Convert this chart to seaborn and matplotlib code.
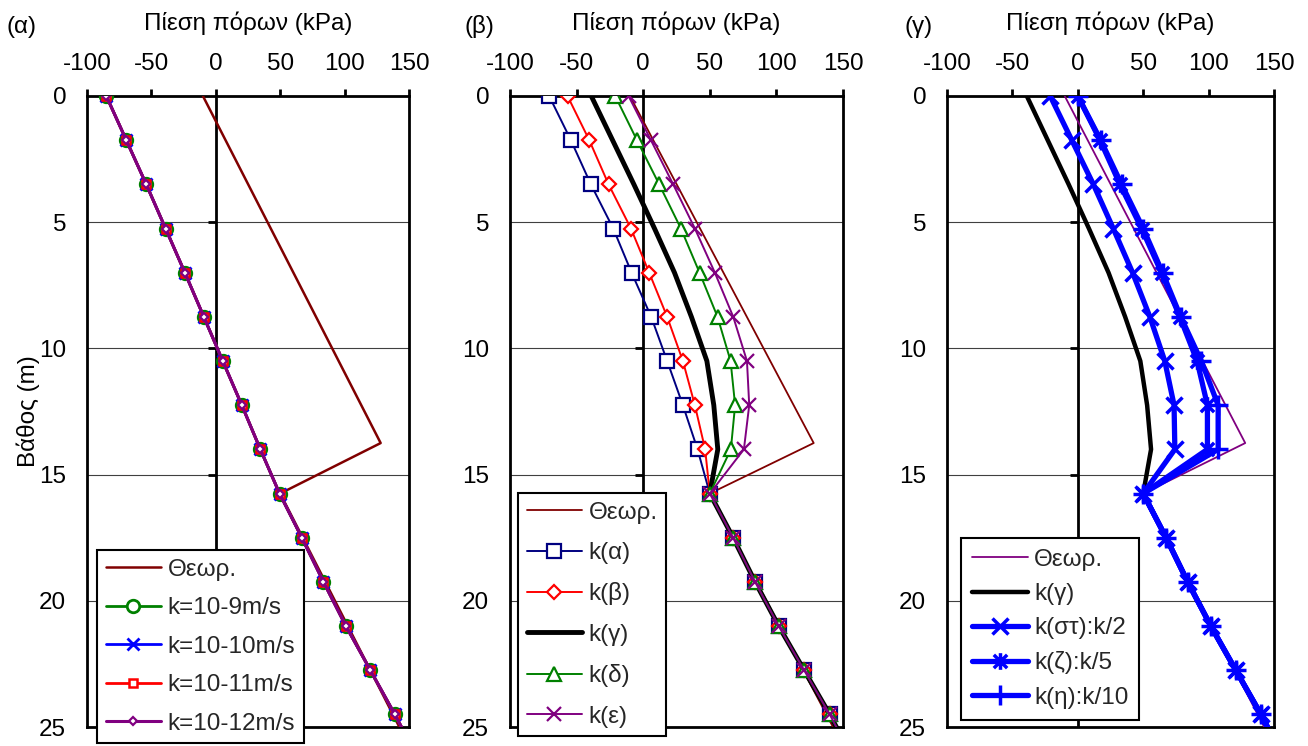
import matplotlib
matplotlib.use("Agg")
import matplotlib.pyplot as plt
import pandas as pd
import seaborn as sns
from matplotlib.path import Path

sns.set_theme(style="white")
plt.rcParams['font.family'] = ['Liberation Sans', 'DejaVu Sans']
plt.rcParams['axes.unicode_minus'] = False

# ---------------- data ----------------
depth = [0, 1.75, 3.5, 5.25, 7, 8.75, 10.5, 12.25, 14, 15.75,
         17.5, 19.25, 21, 22.75, 24.5, 26.25]
theory_depth = [0, 13.75, 15.75, 26.25]
theory_pressure = [-10, 128, 50, 155]

# panel (α): all four permeabilities give the same curve
a_k9 = [-85, -69.5, -54, -39, -24, -9.3, 5.4, 20.2, 34.6, 49.5,
        66.8, 83.6, 101, 120, 139, 157]
a_k10 = [-85, -69.5, -54, -39, -24, -9.3, 5.4, 20.2, 34.6, 49.5,
         66.8, 83.6, 101, 120, 139, 157]
a_k11 = [-85, -69.5, -54, -39, -24, -9.3, 5.4, 20.2, 34.6, 49.5,
         66.8, 83.6, 101, 120, 139, 157]
a_k12 = [-85, -69.5, -54, -39, -24, -9.3, 5.4, 20.2, 34.6, 49.5,
         66.8, 83.6, 101, 120, 139, 157]

# panel (β)
b_ka = [-70.6, -54.3, -39.3, -22.5, -8.7, 6.0, 18.0, 29.8, 40.8, 50,
        67.5, 84, 101.7, 120.8, 140, 157.5]
b_kb = [-56.8, -40.5, -26, -9.2, 4.5, 18, 29.8, 38.8, 46.5, 50,
        67.5, 84, 101.7, 120.8, 140, 157.5]
b_kg = [-39, -23, -7, 8.5, 23.5, 36.2, 47.8, 53, 56, 50,
        67.5, 84, 101.7, 120.8, 140, 157.5]
b_kd = [-21, -4.7, 12, 28.3, 42.3, 55.8, 65.6, 69, 65.8, 50,
        67.5, 84, 101.7, 120.8, 140, 157.5]
b_ke = [-11, 5.8, 22.5, 38.8, 53.8, 67.6, 77.9, 79.6, 75.6, 50,
        67.5, 84, 101.7, 120.8, 140, 157.5]

# panel (γ)
g_kst = [-21.1, -4.6, 11.9, 27.1, 41.9, 55.1, 66.5, 73.6, 74.2, 50,
         67.5, 84, 101.7, 120.8, 140, 157.5]
g_kz = [0, 17, 32.2, 48.8, 64, 78, 91.2, 99.1, 99.1, 50,
        67.5, 84, 101.7, 120.8, 140, 157.5]
g_kh = [0, 17.5, 33.5, 50, 64.8, 78.7, 94.4, 107.3, 107.3, 50,
        67.5, 84, 101.7, 120.8, 140, 157.5]

x_ticks = [-100, -50, 0, 50, 100, 150]
y_ticks = [0, 5, 10, 15, 20, 25]
panel_labels = ['(α)', '(β)', '(γ)']
x_title = 'Πίεση πόρων (kPa)'
y_title = 'Βάθος (m)'

# ---------------- style ----------------
FS = 17.5
W, H = 1308, 746
fig = plt.figure(figsize=(W / 100, H / 100), dpi=100)

ax_px = [(87, 409), (510, 843), (947, 1274)]
top_px, bot_px = 96, 727
axes = []
for (l, r) in ax_px:
    ax = fig.add_axes([l / W, 1 - bot_px / H, (r - l) / W, (bot_px - top_px) / H])
    axes.append(ax)

asterisk = Path([(-1, -1), (1, 1), (-1, 1), (1, -1), (0, -1.25), (0, 1.25)],
                [Path.MOVETO, Path.LINETO] * 3)


def draw(ax, x, y, label, color, lw, marker=None, ms=0, mfc='white', mew=1.5, z=3):
    df = pd.DataFrame({'p': x, 'z': y})
    sns.lineplot(data=df, x='p', y='z', sort=False, estimator=None, ax=ax,
                 color=color, linewidth=lw, marker=marker, markersize=ms,
                 markerfacecolor=mfc, markeredgecolor=color,
                 markeredgewidth=mew, label=label, legend=False, zorder=z)


def style_axes(ax, idx):
    ax.set_xlim(-100, 150)
    ax.set_ylim(25, 0)
    ax.set_xticks(x_ticks)
    ax.set_yticks(y_ticks)
    ax.xaxis.tick_top()
    ax.tick_params(axis='x', top=True, bottom=False, labeltop=True,
                   labelbottom=False, length=5, width=2, direction='out',
                   pad=10, labelsize=FS, colors='black')
    ax.tick_params(axis='y', left=False, right=False, length=0, pad=15,
                   labelsize=FS, labelcolor='black')
    ax.grid(axis='y', color='#404040', linewidth=0.8, zorder=0)
    ax.grid(axis='x', visible=False)
    for s in ax.spines.values():
        s.set_visible(True)
        s.set_color('black')
        s.set_linewidth(2)
    ax.axvline(0, color='black', linewidth=2, zorder=1.5)
    inner = [t for t in y_ticks if 0 < t < 25]
    ax.plot([0] * len(inner), inner, linestyle='none', marker=0,
            markersize=6, markeredgewidth=2, color='black', zorder=1.6)
    ax.xaxis.set_label_position('top')
    ax.set_xlabel(x_title, fontsize=FS, color='black')
    ax.xaxis.set_label_coords(0.5, 1 + (top_px - 23) / (bot_px - top_px))
    ax.xaxis.label.set_va('center')
    if idx == 0:
        ax.set_ylabel(y_title, fontsize=FS, color='black')
        ax.yaxis.set_label_coords((28 - 87) / 322, 0.5)
        ax.yaxis.label.set_va('center')
    else:
        ax.set_ylabel('')


def legend(ax, lx, ly, spacing, bpad=0.35):
    lg = ax.legend(loc='upper left', bbox_to_anchor=(lx, ly), borderaxespad=0,
                   frameon=True, fancybox=False, shadow=False, framealpha=1,
                   edgecolor='black', facecolor='white', fontsize=FS,
                   handlelength=2.3, handletextpad=0.25, borderpad=bpad,
                   labelspacing=spacing)
    lg.get_frame().set_linewidth(1.5)
    lg.set_zorder(10)
    return lg


# ---------------- panel α ----------------
ax = axes[0]
draw(ax, theory_pressure, theory_depth, 'Θεωρ.', '#800000', 1.8)
draw(ax, a_k9, depth, 'k=10-9m/s', '#008000', 2, 'o', 9, 'white', 2)
draw(ax, a_k10, depth, 'k=10-10m/s', '#0000FF', 2, 'x', 9, 'white', 2)
draw(ax, a_k11, depth, 'k=10-11m/s', '#FF0000', 2, 's', 5.5, 'white', 1.8)
draw(ax, a_k12, depth, 'k=10-12m/s', '#800080', 2.2, 'D', 3.8, 'white', 1.6)
style_axes(ax, 0)
legend(ax, (97 - 87) / 322, (727 - 550) / 631, 0.68)

# ---------------- panel β ----------------
ax = axes[1]
draw(ax, theory_pressure, theory_depth, 'Θεωρ.', '#800000', 1.3)
draw(ax, b_ka, depth, 'k(α)', '#000080', 1.4, 's', 9.5, 'white', 1.6)
draw(ax, b_kb, depth, 'k(β)', '#FF0000', 1.4, 'D', 7, 'white', 1.6)
draw(ax, b_kg, depth, 'k(γ)', 'black', 3.5)
draw(ax, b_kd, depth, 'k(δ)', '#008000', 1.4, '^', 10, 'white', 1.6)
draw(ax, b_ke, depth, 'k(ε)', '#800080', 1.4, 'x', 10, 'white', 1.6)
style_axes(ax, 1)
legend(ax, (518 - 510) / 333, (727 - 493) / 631, 0.76)

# ---------------- panel γ ----------------
ax = axes[2]
draw(ax, theory_pressure, theory_depth, 'Θεωρ.', '#800080', 1.3)
draw(ax, b_kg, depth, 'k(γ)', 'black', 3.2)
draw(ax, g_kst, depth, 'k(στ):k/2', '#0000FF', 3.8, 'x', 12, 'none', 2.5)
draw(ax, g_kz, depth, 'k(ζ):k/5', '#0000FF', 3.8, asterisk, 12, 'none', 2.5)
draw(ax, g_kh, depth, 'k(η):k/10', '#0000FF', 3.8, '+', 14, 'none', 2.5)
style_axes(ax, 2)
legend(ax, (961 - 947) / 327, (727 - 538) / 631, 0.5, bpad=0.45)

# panel labels
for lab, xp in zip(panel_labels, [7, 465, 905]):
    fig.text(xp / W, 1 - 27 / H, lab, fontsize=FS, ha='left', va='center',
             color='black')

fig.savefig('out.png', dpi=100, facecolor='white')
